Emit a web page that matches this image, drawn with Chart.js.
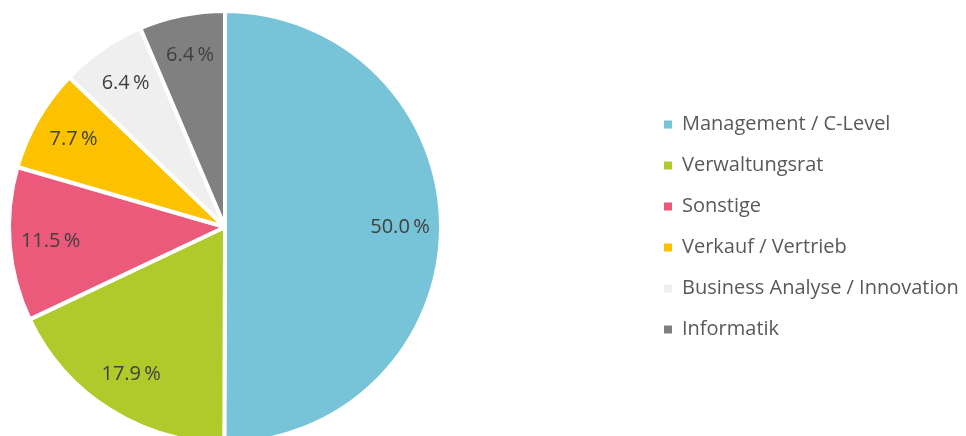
<!DOCTYPE html>
<html>
<head>
<meta charset="utf-8">
<style>
  html, body { margin: 0; padding: 0; background: #fff; }
  #wrap { width: 966px; height: 436px; }
</style>
</head>
<body>
<div id="wrap">
    <canvas id="myChart" width="966" height="436"></canvas>
</div>

<script src="https://cdn.jsdelivr.net/npm/chart.js"></script>
<script>
    // Bereiche und Anteile in Prozent
    const labels = ['Management / C-Level', 'Verwaltungsrat', 'Sonstige', 'Verkauf / Vertrieb', 'Business Analyse / Innovation', 'Informatik'];
    const shares = [50.0, 17.9, 11.5, 7.7, 6.4, 6.4];
    const colors = ['#77c4d8', '#afca2a', '#eb5a7a', '#fcc200', '#efefef', '#808080'];

    const FONT = "'Open Sans', 'Noto Sans', sans-serif";

    // Prozentwerte in die Segmente schreiben
    const sliceLabels = {
        id: 'sliceLabels',
        afterDatasetsDraw(chart) {
            const ctx = chart.ctx;
            const meta = chart.getDatasetMeta(0);
            ctx.save();
            ctx.font = '20px ' + FONT;
            ctx.fillStyle = '#404040';
            ctx.textAlign = 'center';
            ctx.textBaseline = 'middle';
            meta.data.forEach((arc, i) => {
                const p = arc.getProps(['x', 'y', 'startAngle', 'endAngle', 'outerRadius'], true);
                const mid = (p.startAngle + p.endAngle) / 2;
                const r = p.outerRadius * 0.81;
                const txt = shares[i].toFixed(1) + '\u2009%';
                ctx.fillText(txt, p.x + Math.cos(mid) * r, p.y + Math.sin(mid) * r);
            });
            ctx.restore();
        }
    };

    // Kreis links, Legende rechts daneben
    const placeBoxes = {
        id: 'placeBoxes',
        afterLayout(chart) {
            const a = chart.chartArea;
            a.left = 0; a.top = 0; a.right = 450; a.bottom = 454;
            a.width = 450; a.height = 454;
            const lg = chart.legend;
            const w = lg.width;
            lg.left = 643; lg.right = 643 + w;
            lg.top = 10; lg.bottom = 444;
        }
    };

    new Chart(document.getElementById('myChart'), {
        type: 'pie',
        data: {
            labels: labels,
            datasets: [{
                data: shares,
                backgroundColor: colors,
                borderColor: '#ffffff',
                borderWidth: 4,
                radius: 216,
                clip: false
            }]
        },
        options: {
            responsive: false,
            animation: false,
            layout: { padding: 0 },
            plugins: {
                tooltip: { enabled: false },
                legend: {
                    position: 'right',
                    labels: {
                        boxWidth: 8,
                        boxHeight: 8,
                        padding: 21,
                        color: '#595959',
                        font: { family: FONT, size: 20 },
                        generateLabels(chart) {
                            const items = Chart.controllers.pie.overrides.plugins.legend.labels.generateLabels(chart);
                            items.forEach(it => { it.lineWidth = 0; it.strokeStyle = it.fillStyle; });
                            return items;
                        }
                    }
                }
            }
        },
        plugins: [sliceLabels, placeBoxes]
    });
</script>
</body>
</html>
